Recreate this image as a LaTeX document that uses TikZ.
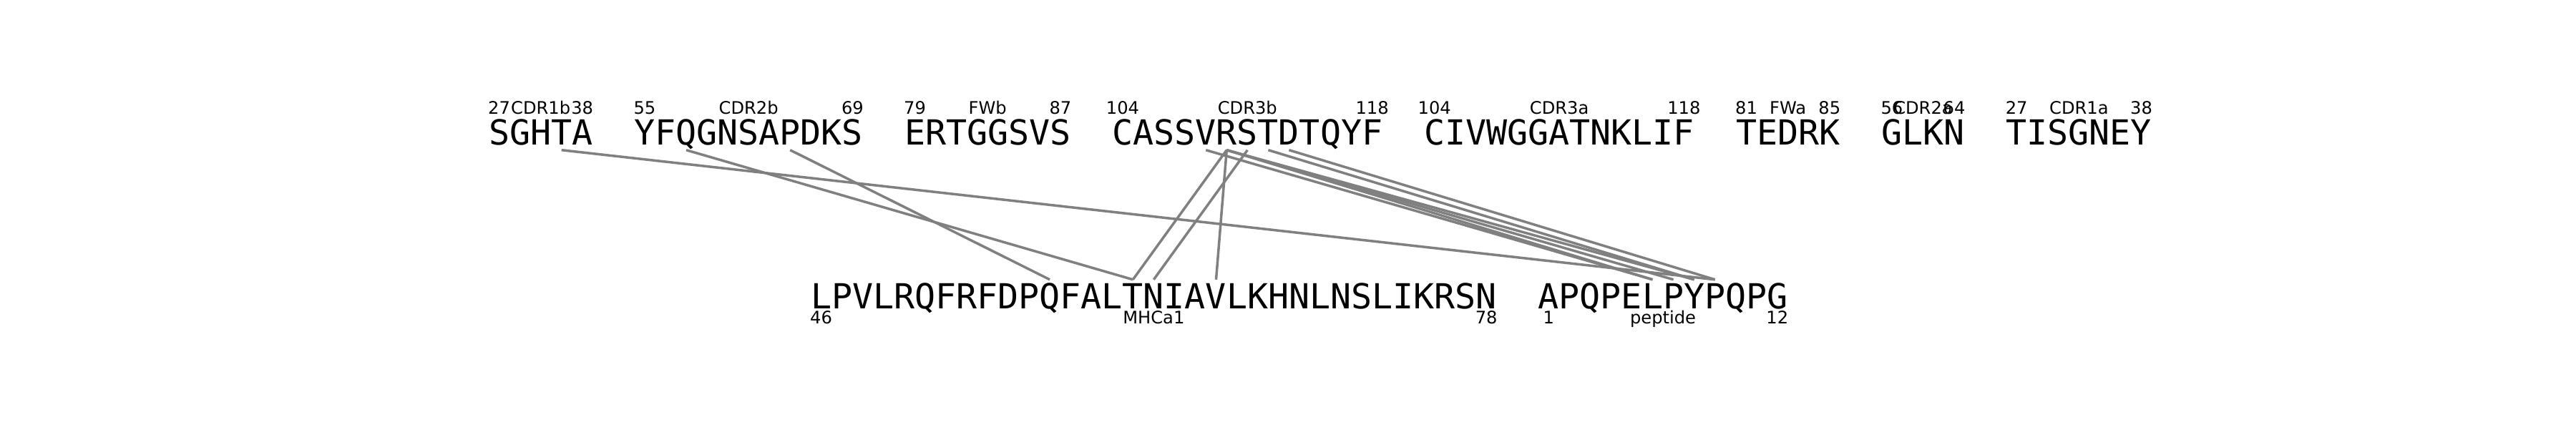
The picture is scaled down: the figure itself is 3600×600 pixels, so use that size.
\documentclass[tikz,border=0pt]{standalone}
\usepackage{fontspec}
\usepackage{tikz}
\usetikzlibrary{positioning}
\newfontfamily\seqfont{DejaVu Sans Mono}
\newfontfamily\lblfont{DejaVu Sans}

\tikzset{
  res top/.style={font=\seqfont\fontsize{13.73}{14}\selectfont, inner sep=0pt, anchor=base, text depth=0.07cm},
  res bot/.style={font=\seqfont\fontsize{13.73}{14}\selectfont, inner sep=0pt, anchor=base, text height=0.40cm},
  lbl/.style={font=\lblfont\fontsize{6.87}{7}\selectfont, inner sep=0pt, anchor=base},
  link/.style={draw=gray, line width=0.035cm}
}

% one segment of the upper row: name, first cell, length, residues, from, label, to
\newcommand{\topseg}[7]{%
  \foreach \r [count=\i] in {#4}
    \node[res top] (#1-\i) at ({683+(#2+\i-0.5)*29.05}, 202) {\r};
  \node[lbl] (#1-from) at ({683+(#2+0.5)*29.05}, 159.3) {#5};
  \node[lbl] (#1-name) at ({683+(#2+#3/2)*29.05}, 159.3) {#6};
  \node[lbl] (#1-to) at ({683+(#2+#3-0.5)*29.05}, 159.3) {#7};
}
% same for the lower row, labels below
\newcommand{\botseg}[7]{%
  \foreach \r [count=\i] in {#4}
    \node[res bot] (#1-\i) at ({1133+(#2+\i-0.5)*29.05}, 431.5) {\r};
  \node[lbl] (#1-from) at ({1133+(#2+0.5)*29.05}, 452.5) {#5};
  \node[lbl] (#1-name) at ({1133+(#2+#3/2)*29.05}, 452.5) {#6};
  \node[lbl] (#1-to) at ({1133+(#2+#3-0.5)*29.05}, 452.5) {#7};
}

\begin{document}
\begin{tikzpicture}[x=0.01cm, y=-0.01cm]
  \useasboundingbox (0,0) rectangle (3600,600);

  % TCR loops
  \topseg{cdr1b}{0}{5}{S,G,H,T,A}{27}{CDR1b}{38}
  \topseg{cdr2b}{7}{11}{Y,F,Q,G,N,S,A,P,D,K,S}{55}{CDR2b}{69}
  \topseg{fwb}{20}{8}{E,R,T,G,G,S,V,S}{79}{FWb}{87}
  \topseg{cdr3b}{30}{13}{C,A,S,S,V,R,S,T,D,T,Q,Y,F}{104}{CDR3b}{118}
  \topseg{cdr3a}{45}{13}{C,I,V,W,G,G,A,T,N,K,L,I,F}{104}{CDR3a}{118}
  \topseg{fwa}{60}{5}{T,E,D,R,K}{81}{FWa}{85}
  \topseg{cdr2a}{67}{4}{G,L,K,N}{56}{CDR2a}{64}
  \topseg{cdr1a}{73}{7}{T,I,S,G,N,E,Y}{27}{CDR1a}{38}

  % MHC helix and peptide
  \botseg{mhc}{0}{33}{L,P,V,L,R,Q,F,R,F,D,P,Q,F,A,L,T,N,I,A,V,L,K,H,N,L,N,S,L,I,K,R,S,N}{46}{MHCa1}{78}
  \botseg{pep}{35}{12}{A,P,Q,P,E,L,P,Y,P,Q,P,G}{1}{peptide}{12}

  % contacts
  \draw[link] (cdr1b-4.south) -- (pep-9.north);
  \draw[link] (cdr2b-3.south) -- (mhc-16.north);
  \draw[link] (cdr2b-8.south) -- (mhc-12.north);
  \draw[link] (cdr3b-6.south) -- (mhc-16.north);
  \draw[link] (cdr3b-6.south) -- (mhc-20.north);
  \draw[link] (cdr3b-7.south) -- (mhc-17.north);
  \draw[link] (cdr3b-5.south) -- (pep-6.north);
  \draw[link] (cdr3b-6.south) -- (pep-6.north);
  \draw[link] (cdr3b-6.south) -- (pep-7.north);
  \draw[link] (cdr3b-6.south) -- (pep-8.north);
  \draw[link] (cdr3b-8.south) -- (pep-8.north);
  \draw[link] (cdr3b-9.south) -- (pep-9.north);
\end{tikzpicture}
\end{document}
